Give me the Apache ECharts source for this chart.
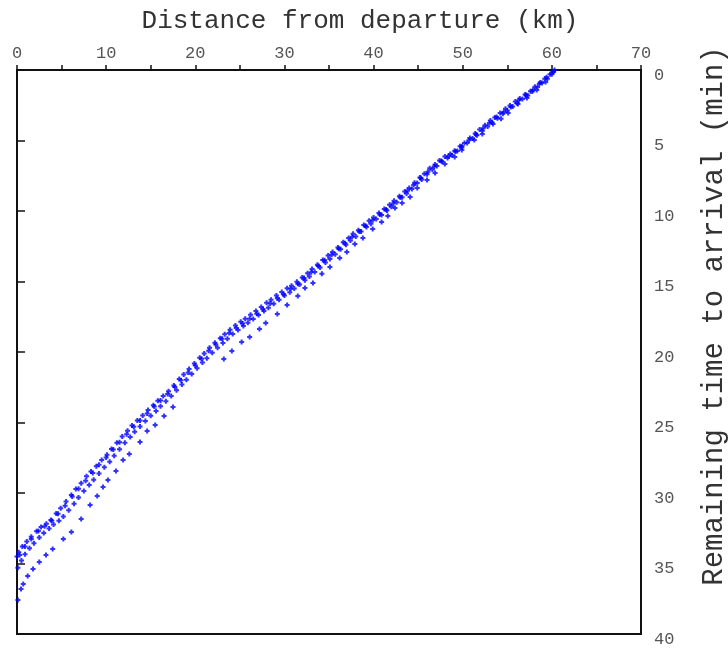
<!DOCTYPE html>
<html>
<head>
<meta charset="utf-8">
<script src="https://cdn.jsdelivr.net/npm/echarts@6/dist/echarts.min.js"></script>
<style>
  html, body { margin: 0; padding: 0; background: #fff; }
  #chart { width: 728px; height: 650px; }
</style>
</head>
<body>
<div id="chart"></div>
<script>
// [distance km, remaining min], one list per run
var tripA = [
  [60.3,0.00],[59.8,0.30],[59.2,0.62],[58.7,0.88],[58.1,1.18],[57.6,1.50],[57.0,1.74],[56.4,2.02],
  [55.9,2.24],[55.3,2.52],[54.8,2.75],[54.2,3.05],[53.6,3.36],[53.1,3.58],[52.5,3.92],[51.9,4.22],
  [51.4,4.50],[50.8,4.82],[50.2,5.18],[49.7,5.40],[49.1,5.72],[48.6,5.96],[48.0,6.14],[47.4,6.42],
  [46.9,6.70],[46.3,6.96],[45.7,7.35],[45.2,7.62],[44.6,8.00],[44.0,8.36],[43.5,8.62],[42.9,8.96],
  [42.3,9.28],[41.8,9.56],[41.2,9.86],[40.6,10.14],[40.0,10.46],[39.5,10.70],[38.9,11.00],[38.3,11.36],
  [37.7,11.62],[37.2,11.92],[36.6,12.22],[36.0,12.58],[35.4,12.90],[34.9,13.16],[34.3,13.48],[33.7,13.82],
  [33.1,14.12],[32.6,14.42],[32.0,14.72],[31.4,15.02],[30.8,15.30],[30.3,15.48],[29.7,15.74],[29.1,16.00],
  [28.5,16.30],[28.0,16.50],[27.4,16.80],[26.8,17.10],[26.2,17.36],[25.6,17.64],[25.1,17.86],[24.5,18.12],
  [23.9,18.42],[23.3,18.74],[22.8,19.02],[22.2,19.34],[21.6,19.70],[21.0,20.10],[20.5,20.40],[19.9,20.82],
  [19.3,21.20],[18.7,21.60],[18.2,21.92],[17.6,22.38],[17.0,22.78],[16.4,23.12],[15.8,23.46],[15.3,23.78],
  [14.7,24.12],[14.1,24.50],[13.5,24.86],[12.9,25.22],[12.4,25.58],[11.8,26.00],[11.2,26.44],[10.6,26.88],
  [10.1,27.28],[9.5,27.66],[8.9,28.10],[8.3,28.48],[7.8,28.82],[7.2,29.30],[6.6,29.72],[6.1,30.14],
  [5.5,30.60],[4.9,31.08],[4.4,31.46],[3.8,31.92],[3.3,32.18],[2.7,32.42],[2.2,32.72],[1.6,33.10],
  [1.1,33.44],[0.6,33.80],[0.2,34.20],[0.0,34.50]
];
var tripB = [
  [60.0,0.30],[59.5,0.62],[58.9,0.92],[58.4,1.20],[57.8,1.52],[57.3,1.80],[56.7,2.06],[56.1,2.36],
  [55.6,2.58],[55.0,2.88],[54.5,3.10],[53.9,3.42],[53.3,3.72],[52.8,4.00],[52.2,4.30],[51.6,4.62],
  [51.1,4.86],[50.5,5.18],[49.9,5.50],[49.4,5.74],[48.8,6.04],[48.3,6.24],[47.7,6.50],[47.1,6.80],
  [46.6,7.06],[46.0,7.40],[45.4,7.76],[44.9,8.02],[44.3,8.44],[43.7,8.76],[43.2,9.02],[42.6,9.38],
  [42.0,9.70],[41.5,9.96],[40.9,10.28],[40.3,10.56],[39.7,10.90],[39.2,11.14],[38.6,11.46],[38.0,11.80],
  [37.4,12.10],[36.9,12.40],[36.3,12.72],[35.7,13.06],[35.1,13.40],[34.6,13.66],[34.0,14.00],[33.4,14.32],
  [32.8,14.64],[32.3,14.92],[31.7,15.22],[31.1,15.50],[30.6,15.76],[30.0,16.00],[29.4,16.30],[28.8,16.58],
  [28.2,16.86],[27.7,17.10],[27.1,17.38],[26.5,17.66],[25.9,17.92],[25.4,18.16],[24.8,18.44],[24.2,18.72],
  [23.6,19.06],[23.1,19.36],[22.5,19.70],[21.9,20.06],[21.3,20.44],[20.8,20.74],[20.2,21.16],[19.6,21.56],
  [19.0,21.96],[18.5,22.30],[17.9,22.72],[17.3,23.12],[16.7,23.50],[16.1,23.84],[15.6,24.18],[15.0,24.52],
  [14.4,24.90],[13.8,25.28],[13.2,25.66],[12.7,26.02],[12.1,26.44],[11.5,26.90],[10.9,27.36],[10.4,27.78],
  [9.8,28.18],[9.2,28.62],[8.6,29.06],[8.1,29.44],[7.5,29.86],[6.9,30.32],[6.4,30.76],[5.8,31.22],
  [5.2,31.66],[4.7,31.96],[4.1,32.24],[3.6,32.52],[3.0,32.84],[2.5,33.16],[1.9,33.56],[1.4,33.92],
  [0.9,34.34],[0.5,34.78],[0.1,35.30]
];
var tripC = [
  [60.1,0.14],[59.4,0.52],[58.6,0.98],[57.9,1.40],[57.1,1.78],[56.3,2.14],[55.4,2.62],[54.6,2.98],
  [53.8,3.34],[53.0,3.76],[52.3,4.14],[51.5,4.58],[50.7,4.98],[49.9,5.40],[49.2,5.78],[48.4,6.12],
  [47.6,6.46],[46.8,6.84],[46.1,7.22],[45.3,7.66],[44.5,8.16],[43.8,8.56],[43.0,9.04],[42.2,9.46],
  [41.4,9.90],[40.7,10.24],[39.9,10.66],[39.1,11.04],[38.4,11.46],[37.6,11.82],[36.8,12.28],[36.1,12.68],
  [35.3,13.10],[34.5,13.50],[33.8,13.90],[33.0,14.34],[32.2,14.76],[31.5,15.16],[30.7,15.52],[29.9,15.90],
  [29.2,16.18],[28.4,16.56],[27.6,16.96],[26.9,17.28],[26.1,17.64],[25.3,17.98],[24.6,18.30],[23.8,18.66],
  [23.0,19.06],[22.3,19.46],[21.5,19.92],[20.7,20.48],[20.0,20.96],[19.2,21.46],[18.4,22.00],[17.7,22.48],
  [16.9,22.98],[16.1,23.44],[15.4,23.86],[14.6,24.36],[13.8,24.86],[13.1,25.30],[12.3,25.84],[11.5,26.40],
  [10.8,26.92],[10.0,27.48],[9.2,28.00],[8.5,28.58],[7.7,29.14],[6.9,29.70],[6.2,30.24],[5.4,30.90],
  [4.6,31.48],[3.9,31.96],[3.1,32.36],[2.4,32.70],[1.6,33.26],[0.9,33.80],[0.3,34.40]
];
// sparse run, drifts below the main band, no fixes between ~20.5 and ~24 min
var tripD = [
  [60.2,0.12],[59.3,0.85],[58.3,1.42],[57.2,1.98],[56.2,2.41],[55.1,3.05],[54.3,3.45],[53.4,3.83],
  [52.2,4.54],[51.3,4.96],[49.9,5.67],[49.1,6.17],[48.0,6.67],[46.9,7.30],[46.0,7.80],[44.9,8.37],
  [44.1,9.01],[43.2,9.43],[42.4,9.79],[41.6,10.35],[40.9,10.78],[39.9,11.28],[38.8,11.91],[37.9,12.34],
  [37.0,12.91],[36.2,13.33],[35.1,13.97],[34.2,14.45],[33.2,15.11],[32.3,15.46],[31.5,16.03],[30.3,16.67],
  [29.2,17.30],[27.9,17.94],[27.2,18.37],[26.1,18.94],[25.2,19.29],[24.1,19.93],[23.2,20.50],
  [17.5,23.90],[16.5,24.54],[15.5,25.18],[14.6,25.60],[13.8,26.38],[12.6,27.23],[11.9,27.66],[11.1,28.44],
  [10.2,29.08],[9.65,29.57],[9.0,30.21],[8.2,30.85],[7.2,31.84],[6.1,32.77],[5.2,33.26],[4.0,33.97],
  [3.25,34.40],[2.5,34.89],[1.8,35.39],[1.2,35.89],[0.7,36.45],[0.45,36.81],[0.1,37.59]
];

var xMax = 70, xStep = 10;
var yMax = 40, yStep = 5;
var xTitle = 'Distance from departure (km)';
var yTitle = 'Remaining time to arrival (min)';

var mono = '"Liberation Mono", "DejaVu Sans Mono", monospace';
// small plus marker
var plus = 'path://M3,0h4v3h3v4h-3v3h-4v-3h-3v-4h3z';

function trip(d) {
  return {
    type: 'scatter',
    data: d,
    symbol: plus,
    symbolSize: 5,
    itemStyle: { color: '#0000ff' },
    silent: true
  };
}

var chart = echarts.init(document.getElementById('chart'));
chart.setOption({
  animation: false,
  grid: {
    left: 17, right: 87, top: 70, bottom: 16,
    show: true, borderColor: '#111', borderWidth: 2
  },
  xAxis: {
    type: 'value',
    position: 'top',
    min: 0, max: xMax, interval: xStep,
    axisLine: { lineStyle: { color: '#111', width: 2 } },
    axisTick: { inside: false, length: 5, lineStyle: { color: '#111', width: 1.5 } },
    minorTick: { show: true, splitNumber: 2, length: 5, lineStyle: { color: '#111', width: 1.5 } },
    splitLine: { show: false },
    axisLabel: { color: '#555', fontFamily: mono, fontSize: 17, margin: 8 }
  },
  yAxis: {
    type: 'value',
    position: 'right',
    inverse: true,
    min: 0, max: yMax, interval: yStep,
    axisLine: { lineStyle: { color: '#111', width: 2 } },
    axisTick: { inside: false, length: 8, lineStyle: { color: '#111', width: 1.5 } },
    splitLine: { show: false },
    // labels sit a little under their ticks
    axisLabel: { color: '#555', fontFamily: mono, fontSize: 17, margin: 13, verticalAlign: 'top', lineHeight: 10 }
  },
  graphic: [
    {
      type: 'text', x: 360, y: 21,
      style: { text: xTitle, fill: '#333', font: '26px ' + mono, align: 'center', verticalAlign: 'middle' }
    },
    {
      type: 'text', x: 714, y: 316, rotation: Math.PI / 2,
      style: { text: yTitle, fill: '#333', font: '29px ' + mono, align: 'center', verticalAlign: 'middle' }
    }
  ],
  series: [trip(tripA), trip(tripB), trip(tripC), trip(tripD)]
});
</script>
</body>
</html>
